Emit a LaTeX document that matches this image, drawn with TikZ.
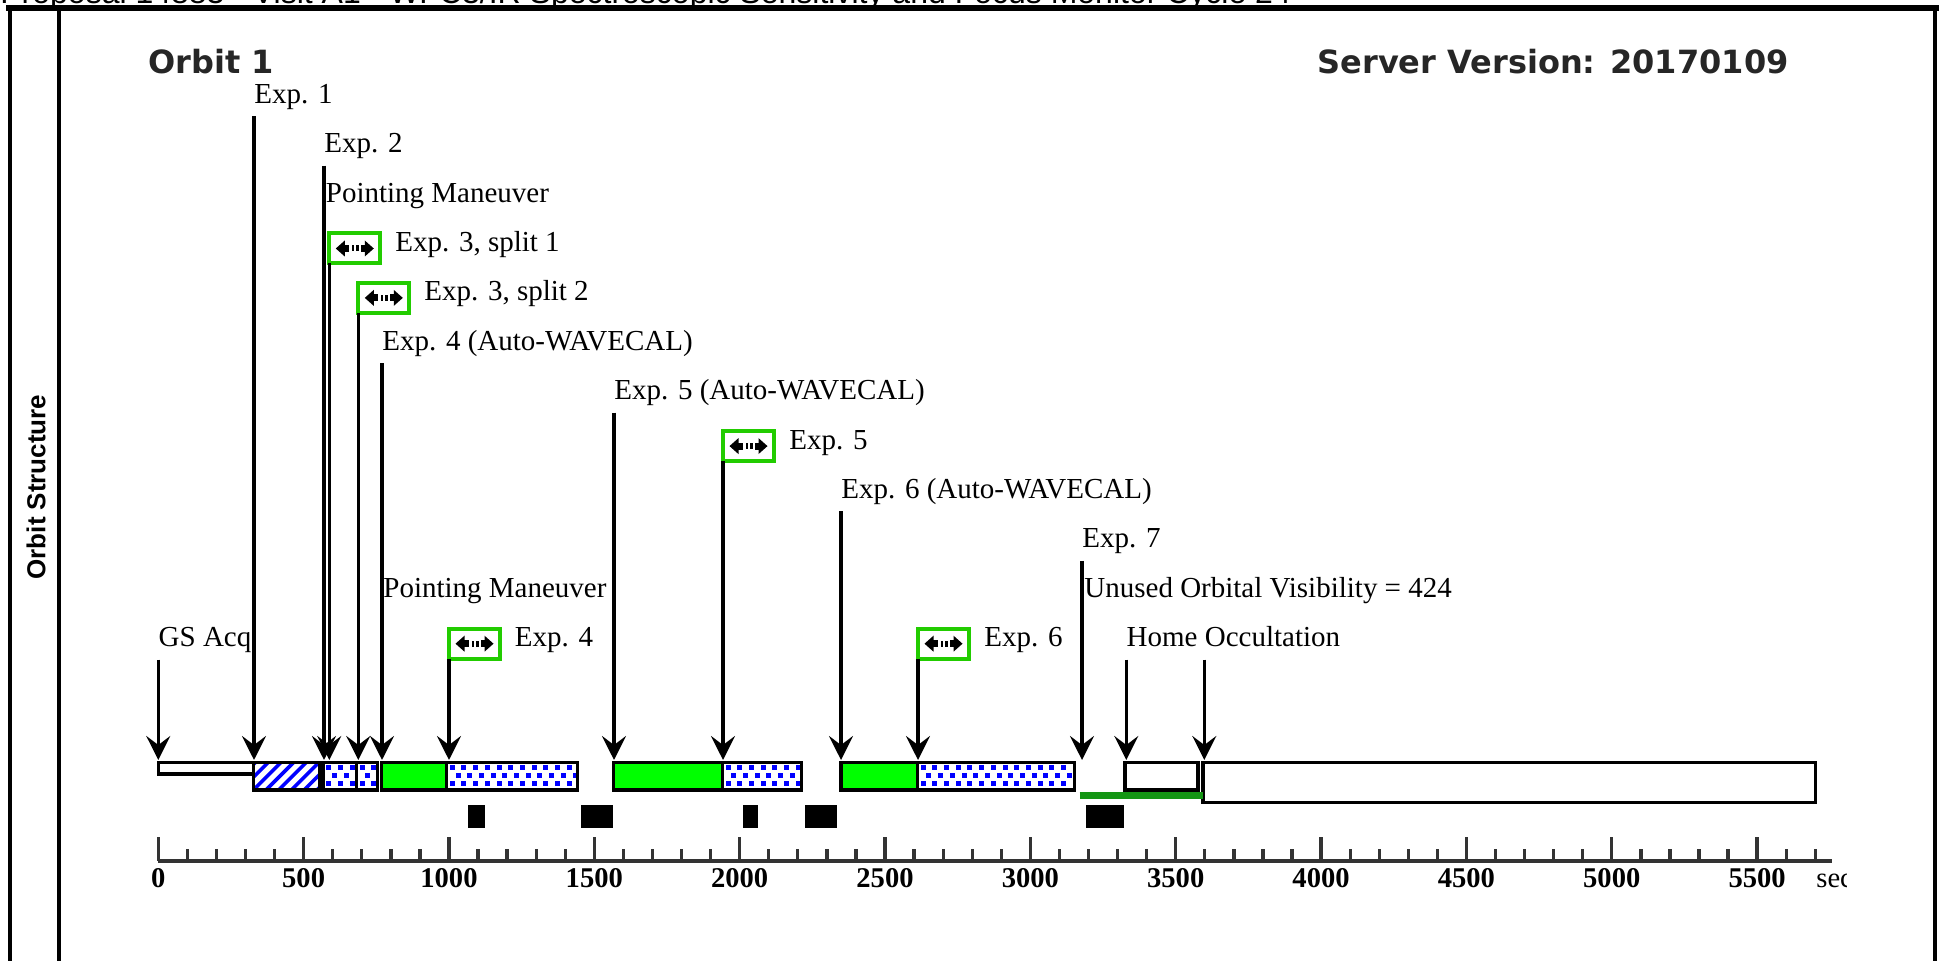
\documentclass[tikz,border=0pt]{standalone}
\usepackage{fontspec}
\setmainfont{Liberation Serif}
\setsansfont{Liberation Sans}
\newfontfamily\headfont{DejaVu Sans}
\usetikzlibrary{arrows.meta}

\definecolor{barblue}{RGB}{0,0,255}
\definecolor{bargreen}{RGB}{0,255,0}
\definecolor{boxgreen}{RGB}{34,204,0}
\definecolor{oovgreen}{RGB}{20,150,20}
\definecolor{axisgrey}{RGB}{51,51,51}

\newcommand{\lblsize}{\fontsize{14.5}{17}\selectfont}

% bar with blue square dots
\newcommand{\dotbar}[2]{%
  \fill[white] (#1,762.7) rectangle (#2,790);
  \begin{scope}
    \clip (#1,762.7) rectangle (#2,790);
    \foreach \k in {0,...,14}{%
      \fill[barblue] ({#1+3+11.7*\k},765.5) rectangle ++(5,5);
      \fill[barblue] ({#1+8.85+11.7*\k},773.5) rectangle ++(5,5);
      \fill[barblue] ({#1+3+11.7*\k},781.5) rectangle ++(5,5);
    }
  \end{scope}
  \draw[barline] (#1,762.7) rectangle (#2,790);
}
% bar with blue diagonal hatch
\newcommand{\hatchbar}[2]{%
  \fill[white] (#1,762.7) rectangle (#2,790);
  \begin{scope}
    \clip (#1,762.7) rectangle (#2,790);
    \foreach \k in {-3,...,7}{%
      \draw[barblue, line width=1.8pt] ({#1+12.7*\k},790) -- ++(27.3,-27.3);
    }
  \end{scope}
  \draw[barline] (#1,762.7) rectangle (#2,790);
}
% small icon inside the green boxes
\newcommand{\ovicon}[1]{%
  \begin{scope}[shift={(#1.center)}]
    \fill (-19,0) -- (-10,-8) -- (-10,8) -- cycle;
    \fill (-10.5,-3.5) rectangle (-6,3.5);
    \fill (-3,-3) rectangle (-0.5,3);
    \fill (1.5,-3) rectangle (4,3);
    \fill (6,-3.5) rectangle (10.5,3.5);
    \fill (19,0) -- (10,-8) -- (10,8) -- cycle;
  \end{scope}}

\begin{document}
\begin{tikzpicture}[x=0.5pt,y=-0.5pt,
  lbl/.style={font=\lblsize, anchor=base west, inner sep=0pt, text depth=0pt},
  marker/.style={line width=1.6pt, -{Stealth[length=12pt,width=12pt,inset=4.5pt]}},
  expbox/.style={draw=boxgreen, line width=2pt, fill=white, inner sep=0pt,
    outer sep=0pt, minimum width=25.5pt, minimum height=15pt, anchor=south west},
  barline/.style={draw=black, line width=1.6pt},
  tick/.style={draw=axisgrey, line width=1.65pt},
  ticklbl/.style={font=\bfseries\fontsize{14.3}{16}\selectfont, anchor=base, inner sep=0pt},
  headtxt/.style={font=\headfont\bfseries\fontsize{16}{19}\selectfont, text=black!85,
    inner sep=0pt}]
\useasboundingbox (0,0) rectangle (1939,961);
\clip (0,0) rectangle (1939,961);

% page header and frame
\node[font=\sffamily\fontsize{16}{18}\selectfont, anchor=base west, inner sep=0pt] (hdr)
  at (0,4) {Proposal 14883 - Visit A1 - WFC3/IR Spectroscopic Sensitivity and Focus Monitor Cycle 24};
\draw[line width=3pt] (6,8) -- (1939,8);
\draw[line width=2pt] (9.5,8) -- (9.5,961);
\draw[line width=2pt] (58.5,8) -- (58.5,961);
\draw[line width=2pt] (1935,8) -- (1935,961);
\node[font=\sffamily\bfseries\fontsize{13}{15}\selectfont, rotate=90] (side) at (36,487) {Orbit Structure};

\node[headtxt, anchor=base west] (orb) at (148,73.3) {Orbit 1};
\node[headtxt, anchor=base east] (srv) at (1789,73.3) {Server Version: 20170109};

% timeline bars
\draw[barline, fill=white] (158.3,762.7) rectangle (253.3,774);
\hatchbar{253.3}{320}
\dotbar{323.3}{356.5}
\dotbar{356.5}{377.3}
\draw[barline, fill=bargreen] (381.7,762.7) rectangle (446.7,790);
\dotbar{446.7}{577.3}
\draw[barline, fill=bargreen] (613.3,762.7) rectangle (722.5,790);
\dotbar{722.5}{801.5}
\draw[barline, fill=bargreen] (841,762.7) rectangle (917.6,790);
\dotbar{917.6}{1074.8}
\draw[barline, fill=white] (1125,762.7) rectangle (1198,790);
\draw[barline, fill=white] (1203,762.7) rectangle (1815.5,802.6);
\draw[oovgreen, line width=3.2pt] (1079.6,795.5) -- (1203,795.5);

% guide star / occultation blocks
\fill (468.3,805) rectangle (485,827.7);
\fill (581,805) rectangle (612.7,827.7);
\fill (743,805) rectangle (758,827.7);
\fill (805,805) rectangle (837,827.7);
\fill (1086,805) rectangle (1124,827.7);

% axis
\draw[tick] (158.3,861) -- (1832,861);
\foreach \t in {0,100,...,5700}
  \draw[tick] ({158.3+0.2907*\t},861) -- ++(0,-12);
\foreach \t in {0,500,...,5500}{
  \draw[tick] ({158.3+0.2907*\t},861) -- ++(0,-24);
  \node[ticklbl] (n\t) at ({158.3+0.2907*\t},888) {\t};
}
\begin{scope}
  \clip (0,0) rectangle (1846,961);
  \node[ticklbl, font=\fontsize{14.3}{16}\selectfont, anchor=base west] (nsec) at (1816,888) {sec};
\end{scope}

\coordinate (tipline) at (0,760);

% labels and markers
\node[lbl] (lE1) at (254,103.3) {Exp. 1};
\draw[marker] ([yshift=-6.5pt]lE1.base west) -- (lE1.base west |- tipline);
\node[lbl] (lE2) at (324,152.7) {Exp. 2};
\draw[marker] ([yshift=-6.5pt]lE2.base west) -- (lE2.base west |- tipline);
\node[lbl] (lPM1) at (325.5,202.1) {Pointing Maneuver};

\node[expbox] (bE3a) at (329.3,263.5) {};
\ovicon{bE3a}
\node[lbl] (lE3a) at (395,251.5) {Exp. 3, split 1};
\draw[marker] (bE3a.south west) -- (bE3a.south west |- tipline);

\node[expbox] (bE3b) at (358.3,312.9) {};
\ovicon{bE3b}
\node[lbl] (lE3b) at (424,300.9) {Exp. 3, split 2};
\draw[marker] (bE3b.south west) -- (bE3b.south west |- tipline);

\node[lbl] (lE4w) at (382,350.3) {Exp. 4 (Auto-WAVECAL)};
\draw[marker] ([yshift=-6.5pt]lE4w.base west) -- (lE4w.base west |- tipline);

\node[lbl] (lE5w) at (614,399.7) {Exp. 5 (Auto-WAVECAL)};
\draw[marker] ([yshift=-6.5pt]lE5w.base west) -- (lE5w.base west |- tipline);

\node[expbox] (bE5) at (723,461.1) {};
\ovicon{bE5}
\node[lbl] (lE5) at (789,449.1) {Exp. 5};
\draw[marker] (bE5.south west) -- (bE5.south west |- tipline);

\node[lbl] (lE6w) at (841,498.5) {Exp. 6 (Auto-WAVECAL)};
\draw[marker] ([yshift=-6.5pt]lE6w.base west) -- (lE6w.base west |- tipline);

\node[lbl] (lE7) at (1082,547.9) {Exp. 7};
\draw[marker] ([yshift=-6.5pt]lE7.base west) -- (lE7.base west |- tipline);
\node[lbl] (lUOV) at (1084,597.3) {Unused Orbital Visibility = 424};
\node[lbl] (lPM2) at (383,597.3) {Pointing Maneuver};

\node[lbl] (lGS) at (158.3,646.7) {GS Acq};
\draw[marker] ([yshift=-6.5pt]lGS.base west) -- (lGS.base west |- tipline);

\node[expbox] (bE4) at (449,658.7) {};
\ovicon{bE4}
\node[lbl] (lE4) at (514.5,646.7) {Exp. 4};
\draw[marker] (bE4.south west) -- (bE4.south west |- tipline);

\node[expbox] (bE6) at (918,658.7) {};
\ovicon{bE6}
\node[lbl] (lE6) at (984,646.7) {Exp. 6};
\draw[marker] (bE6.south west) -- (bE6.south west |- tipline);

\node[lbl] (lHO) at (1126.3,646.7) {Home Occultation};
\draw[marker] ([yshift=-6.5pt]lHO.base west) -- (lHO.base west |- tipline);
\coordinate (hoEnd) at (1204.3,659.7);
\draw[marker] (hoEnd) -- (hoEnd |- tipline);
\end{tikzpicture}
\end{document}
